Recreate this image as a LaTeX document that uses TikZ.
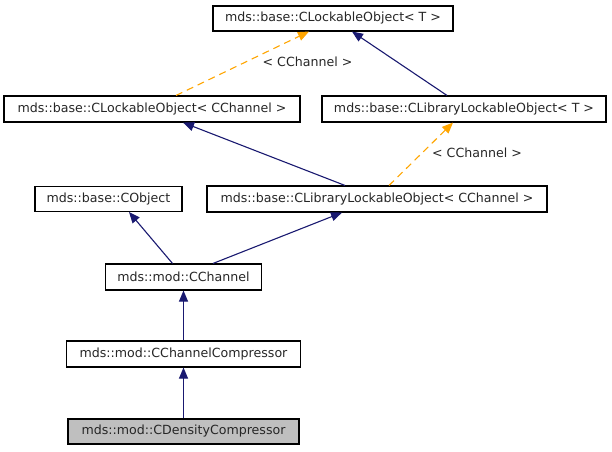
\documentclass[tikz,border=0pt]{standalone}
\usepackage{fontspec}
\setmainfont{DejaVu Sans}
\usetikzlibrary{arrows.meta}
\definecolor{navy}{HTML}{191970}
\definecolor{dorange}{HTML}{FFA500}
\definecolor{grayfill}{HTML}{BFBFBF}
\begin{document}
\begin{tikzpicture}[x=1pt,y=-1pt,
  cls/.style={draw=black, fill=white, line width=1.1pt, rectangle, inner sep=0pt,
    font=\fontsize{12.6}{15}\selectfont, text=black!85},
  inh/.style={draw=navy, line width=1.1pt, -{Triangle[length=11pt,width=9pt]}},
  tmpl/.style={draw=dorange, line width=1.1pt, dash pattern=on 7pt off 5pt,
    -{Triangle[length=11pt,width=9pt]}},
  lbl/.style={font=\fontsize{12.6}{15}\selectfont, text=black!85, inner sep=0pt}]
\useasboundingbox (0,0) rectangle (612,451);
\node[cls, minimum width=240pt, minimum height=25pt] (top) at (333,18.5) {mds::base::CLockableObject< T >};
\node[cls, minimum width=296pt, minimum height=26pt] (lco) at (152,109) {mds::base::CLockableObject< CChannel >};
\node[cls, minimum width=284pt, minimum height=26pt] (llt) at (464,109) {mds::base::CLibraryLockableObject< T >};
\node[cls, minimum width=147pt, minimum height=25pt] (cobj) at (108.5,199) {mds::base::CObject};
\node[cls, minimum width=340pt, minimum height=26pt] (llc) at (377,199) {mds::base::CLibraryLockableObject< CChannel >};
\node[cls, minimum width=156pt, minimum height=26pt] (cch) at (183.5,277) {mds::mod::CChannel};
\node[cls, minimum width=234pt, minimum height=26pt] (ccc) at (183.5,354) {mds::mod::CChannelCompressor};
\node[cls, fill=grayfill, minimum width=231pt, minimum height=25pt] (cdc) at (183.5,431.5) {mds::mod::CDensityCompressor};
\node[lbl] (l1) at (307.5,62) {< CChannel >};
\node[lbl] (l2) at (477,153) {< CChannel >};
\draw[tmpl] ([xshift=24pt]lco.north) -- ([xshift=-24pt]top.south);
\draw[inh] ([xshift=-17pt]llt.north) -- ([xshift=19pt]top.south);
\draw[inh] ([xshift=-32pt]llc.north) -- ([xshift=31pt]lco.south);
\draw[tmpl] ([xshift=12pt]llc.north) -- ([xshift=-11pt]llt.south);
\draw[inh] ([xshift=-11pt]cch.north) -- ([xshift=20.5pt]cobj.south);
\draw[inh] ([xshift=29.5pt]cch.north) -- ([xshift=-35pt]llc.south);
\draw[inh] (ccc.north) -- (cch.south);
\draw[inh] (cdc.north) -- (ccc.south);
\end{tikzpicture}
\end{document}
